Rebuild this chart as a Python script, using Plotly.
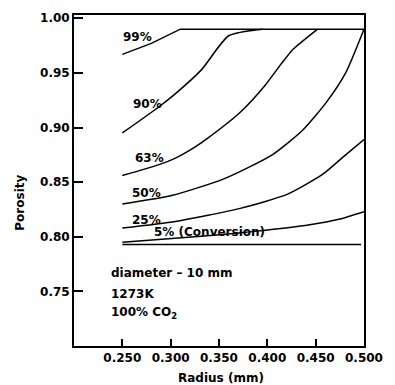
import plotly.graph_objects as go

# Porosity profiles along the pellet radius for different overall conversions
radius_99 = [0.250, 0.280, 0.310, 0.500]
porosity_99 = [0.967, 0.977, 0.990, 0.990]

radius_90 = [0.250, 0.288, 0.305, 0.332, 0.360, 0.395]
porosity_90 = [0.895, 0.919, 0.931, 0.953, 0.984, 0.990]

radius_63 = [0.250, 0.288, 0.305, 0.325, 0.338, 0.372, 0.398, 0.415, 0.426, 0.452]
porosity_63 = [0.856, 0.866, 0.872, 0.882, 0.890, 0.914, 0.939, 0.959, 0.971, 0.990]

radius_50 = [0.250, 0.302, 0.355, 0.405, 0.437, 0.461, 0.481, 0.500]
porosity_50 = [0.830, 0.838, 0.853, 0.875, 0.898, 0.923, 0.950, 0.990]

radius_25 = [0.250, 0.305, 0.372, 0.421, 0.457, 0.481, 0.500]
porosity_25 = [0.808, 0.814, 0.826, 0.839, 0.857, 0.875, 0.889]

radius_5 = [0.250, 0.325, 0.365, 0.398, 0.444, 0.474, 0.500]
porosity_5 = [0.795, 0.800, 0.803, 0.806, 0.811, 0.816, 0.823]

radius_0 = [0.250, 0.497]
porosity_0 = [0.793, 0.793]

curve_labels = ["99%", "90%", "63%", "50%", "25%", "5% (Conversion)"]
label_radius = [0.2487, 0.2586, 0.2606, 0.2576, 0.2576, 0.2804]
label_porosity = [0.983, 0.9214, 0.8725, 0.8398, 0.8153, 0.8045]

x_ticks = [0.25, 0.30, 0.35, 0.40, 0.45, 0.50]
y_ticks = [0.75, 0.80, 0.85, 0.90, 0.95, 1.00]

FONT = "DejaVu Sans"
TXT = dict(family=FONT, size=12, color="black", weight="bold")

fig = go.Figure()
series = [
    (radius_99, porosity_99, "linear"),
    (radius_90, porosity_90, "spline"),
    (radius_63, porosity_63, "spline"),
    (radius_50, porosity_50, "spline"),
    (radius_25, porosity_25, "spline"),
    (radius_5, porosity_5, "spline"),
    (radius_0, porosity_0, "linear"),
]
for xs, ys, shape in series:
    fig.add_trace(go.Scatter(x=xs, y=ys, mode="lines",
                             line=dict(color="black", width=1.5, shape=shape,
                                       smoothing=0.6),
                             showlegend=False, hoverinfo="skip"))

for text, xv, yv in zip(curve_labels, label_radius, label_porosity):
    fig.add_annotation(x=xv, y=yv, xref="x", yref="y", text=text,
                       showarrow=False, xanchor="left", yanchor="middle",
                       font=TXT)

conditions = ["diameter \u2013 10 mm", "1273K", "100% CO<sub>2</sub>"]
cond_y = [0.7664, 0.7474, 0.7302]
for text, yv in zip(conditions, cond_y):
    fig.add_annotation(x=0.2358, y=yv, xref="x", yref="y", text=text,
                       showarrow=False, xanchor="left", yanchor="middle",
                       font=TXT)

# axis titles
fig.add_annotation(x=-0.185, y=0.434, xref="paper", yref="paper",
                   text="Porosity", textangle=-90, showarrow=False,
                   xanchor="center", yanchor="middle", font=TXT)
fig.add_annotation(x=0.508, y=-0.096, xref="paper", yref="paper",
                   text="Radius (mm)", showarrow=False,
                   xanchor="center", yanchor="middle", font=TXT)

fig.update_xaxes(range=[0.20, 0.50], tickvals=x_ticks, tickformat=".3f",
                 ticks="inside", ticklen=7, tickwidth=1.5, tickcolor="black",
                 showline=True, linecolor="black", linewidth=1.8, mirror=True,
                 showgrid=False, zeroline=False, tickfont=TXT)
fig.update_yaxes(range=[0.700, 1.003], tickvals=y_ticks, tickformat=".2f",
                 ticks="inside", ticklen=9, tickwidth=1.5, tickcolor="black",
                 showline=True, linecolor="black", linewidth=1.8, mirror=True,
                 showgrid=False, zeroline=False, tickfont=TXT)

fig.update_layout(width=395, height=385,
                  margin=dict(l=74, r=19, t=12, b=39),
                  paper_bgcolor="white", plot_bgcolor="white")

fig.write_html("out.html")
